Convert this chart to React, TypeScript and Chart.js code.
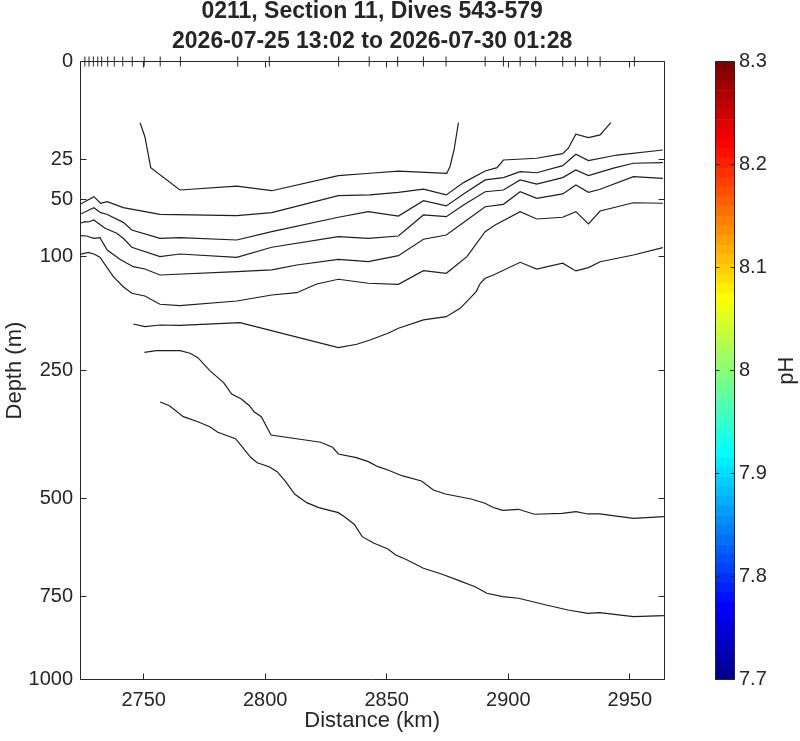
import React, { useEffect, useRef } from 'react';
import { Chart, registerables, Scale, LinearScale } from 'chart.js';

Chart.register(...registerables);

// ---------- data ----------
const TITLE_LINES = ['0211, Section 11, Dives 543-579', '2026-07-25 13:02 to 2026-07-30 01:28'];
const X_TITLE = 'Distance (km)';
const Y_TITLE = 'Depth (m)';
const CB_TITLE = 'pH';

const X_MIN = 2723.8;
const X_MAX = 2964.2;
const X_TICKS = [2750, 2800, 2850, 2900, 2950];
const Y_MIN = 0;
const Y_MAX = 1000;
const Y_TICKS = [0, 25, 50, 100, 250, 500, 750, 1000];
const CB_MIN = 7.7;
const CB_MAX = 8.3;
const CB_TICKS = [7.7, 7.8, 7.9, 8, 8.1, 8.2, 8.3];
const CB_LEVELS = 64;

const DIVE_KM = [2725.8, 2727.5, 2729.3, 2731.1, 2732.7, 2735.2, 2737.9, 2741.4, 2745.3, 2750.2, 2756.8, 2765.1, 2788.7, 2801.7, 2830.2, 2842.8, 2854.5, 2865.1, 2874.4, 2890.5, 2898.0, 2904.9, 2911.3, 2922.4, 2927.6, 2932.7, 2937.8, 2951.9];

const C1_KM = [2748.5, 2750.5, 2752.9, 2764.9, 2788.3, 2802.7, 2830.1, 2843.1, 2854.8, 2874.7, 2876.0, 2877.7, 2879.5];
const C1_DEPTH = [9.8, 14.8, 29.5, 43.2, 40.6, 43.7, 34.1, 32.7, 31.4, 32.7, 29.0, 20.5, 9.8];

const C2_KM = [2723.8, 2726.5, 2729.5, 2732.3, 2735.0, 2741.6, 2756.7, 2788.3, 2802.7, 2830.1, 2843.1, 2854.8, 2865.1, 2874.5, 2881.6, 2890.5, 2895.4, 2898.0, 2911.7, 2922.4, 2924.7, 2927.8, 2933.0, 2937.8, 2942.2];
const C2_DEPTH = [53.4, 50.7, 47.8, 52.6, 51.4, 55.9, 61.1, 62.2, 59.8, 47.1, 46.6, 44.8, 42.7, 46.6, 38.4, 31.4, 29.5, 25.4, 24.5, 22.2, 19.7, 13.8, 15.2, 14.1, 9.8];

const C3_KM = [2723.8, 2729.5, 2732.3, 2734.8, 2741.6, 2745.1, 2756.7, 2764.9, 2788.3, 2802.7, 2830.1, 2842.4, 2854.8, 2865.1, 2874.5, 2881.6, 2890.5, 2898.0, 2904.9, 2911.7, 2922.4, 2927.8, 2933.0, 2944.7, 2963.6];
const C3_DEPTH = [61.1, 55.9, 59.8, 61.1, 67.7, 74.3, 81.8, 81.2, 83.4, 75.8, 63.5, 59.0, 62.5, 50.7, 54.6, 45.9, 36.7, 35.3, 31.8, 32.4, 28.4, 22.5, 25.7, 22.9, 20.5];

const C4_KM = [2723.8, 2725.8, 2727.2, 2729.5, 2734.1, 2738.9, 2741.6, 2745.1, 2756.7, 2764.9, 2788.3, 2802.7, 2830.1, 2842.4, 2854.8, 2865.1, 2874.5, 2881.6, 2890.5, 2898.0, 2904.9, 2911.7, 2922.4, 2927.8, 2933.0, 2943.3, 2951.5, 2963.6];
const C4_DEPTH = [68.5, 67.1, 67.4, 65.7, 72.8, 77.2, 81.8, 90.3, 99.7, 97.0, 100.3, 90.3, 80.3, 81.8, 79.7, 61.6, 63.0, 53.9, 44.4, 43.2, 36.7, 39.3, 35.3, 30.8, 34.1, 29.8, 27.1, 26.8];

const C5_KM = [2723.8, 2726.5, 2729.5, 2732.0, 2735.0, 2740.2, 2745.7, 2750.5, 2756.7, 2788.3, 2802.7, 2813.0, 2830.1, 2842.4, 2854.8, 2865.1, 2874.5, 2883.0, 2890.5, 2898.0, 2904.9, 2911.7, 2922.4, 2927.8, 2933.0, 2937.8, 2951.5, 2963.6];
const C5_DEPTH = [79.4, 79.7, 81.8, 81.2, 93.0, 102.4, 110.2, 112.7, 119.3, 115.6, 113.7, 108.4, 102.4, 104.9, 98.7, 82.7, 78.8, 65.7, 55.2, 53.4, 44.4, 49.0, 45.9, 39.9, 44.8, 42.7, 34.7, 35.7];

const C6_KM = [2723.8, 2727.2, 2729.5, 2732.0, 2737.5, 2741.6, 2745.1, 2750.5, 2756.7, 2764.9, 2788.3, 2802.7, 2813.0, 2821.2, 2830.1, 2842.4, 2854.8, 2865.1, 2874.5, 2883.0, 2890.5, 2894.6, 2904.9, 2911.7, 2922.4, 2927.8, 2933.0, 2937.8, 2951.5, 2963.6];
const C6_DEPTH = [97.3, 95.3, 97.0, 100.3, 121.2, 132.7, 140.6, 143.9, 154.2, 156.0, 150.1, 142.7, 139.9, 129.5, 124.1, 128.7, 129.9, 114.5, 117.4, 99.7, 75.8, 69.9, 59.0, 64.9, 63.5, 59.0, 69.1, 58.5, 52.2, 52.6];

const C7_KM = [2745.7, 2750.5, 2756.7, 2764.9, 2789.6, 2830.1, 2837.7, 2843.1, 2850.5, 2854.8, 2865.1, 2874.5, 2880.2, 2883.6, 2886.8, 2888.5, 2890.5, 2893.9, 2904.9, 2911.7, 2922.4, 2927.8, 2933.0, 2937.8, 2951.5, 2963.6];
const C7_DEPTH = [180.3, 184.0, 181.7, 182.1, 178.5, 214.3, 209.2, 202.9, 193.3, 186.2, 174.8, 170.4, 159.4, 148.8, 138.6, 128.7, 123.0, 119.3, 105.5, 112.7, 106.5, 114.8, 111.2, 104.9, 98.0, 90.7];

const C8_KM = [2750.3, 2755.2, 2765.0, 2769.1, 2772.3, 2777.2, 2782.9, 2786.2, 2790.2, 2793.5, 2795.4, 2798.4, 2802.4, 2822.8, 2827.7, 2830.1, 2837.5, 2842.4, 2846.4, 2850.5, 2856.2, 2864.3, 2869.2, 2874.1, 2884.7, 2890.4, 2893.6, 2897.7, 2904.2, 2910.7, 2922.2, 2927.9, 2932.7, 2937.6, 2951.5, 2964.0];
const C8_DEPTH = [221.3, 218.8, 218.8, 222.8, 229.5, 250.1, 269.9, 289.3, 298.0, 310.0, 320.9, 330.1, 365.0, 379.4, 389.4, 403.1, 410.7, 419.0, 429.6, 436.6, 448.9, 460.4, 480.4, 489.4, 500.8, 510.7, 520.0, 527.0, 524.7, 536.4, 534.1, 530.3, 535.7, 535.7, 546.0, 542.1];

const C9_KM = [2756.8, 2760.6, 2766.3, 2772.3, 2777.2, 2780.5, 2787.8, 2790.2, 2794.0, 2796.7, 2801.6, 2804.9, 2808.1, 2812.2, 2817.1, 2822.0, 2830.1, 2832.6, 2836.6, 2839.9, 2844.8, 2850.5, 2853.7, 2857.8, 2865.1, 2872.5, 2879.8, 2886.3, 2891.2, 2897.7, 2904.2, 2915.6, 2924.6, 2932.7, 2937.6, 2951.5, 2964.0];
const C9_DEPTH = [303.3, 310.0, 330.1, 339.5, 349.0, 359.7, 372.3, 386.8, 409.9, 421.2, 429.6, 440.2, 459.8, 490.1, 509.3, 520.9, 532.6, 542.1, 560.4, 590.8, 607.4, 621.8, 637.2, 648.4, 672.0, 687.2, 705.3, 721.7, 740.0, 749.4, 753.9, 772.9, 787.2, 796.7, 794.9, 806.5, 803.6];

// ---------- styles ----------
const FONT = '"Liberation Sans", Arial, Helvetica, sans-serif';
const TEXT = '#262626';
const AXIS = '#262626';
const LINE = '#1e1e1e';
const TICK_LEN = 6;

// ---------- sqrt depth scale ----------
class SqrtScale extends Scale {
  static id = 'sqrt';
  static defaults = {};
  _startValue: number;
  _valueRange: number;
  constructor(cfg: any) {
    super(cfg);
    this._startValue = 0;
    this._valueRange = 1;
  }
  parse(raw: any, index: number) {
    return (LinearScale.prototype as any).parse.apply(this, [raw, index]);
  }
  determineDataLimits() {
    const o: any = (this as any).options;
    (this as any).min = o.min ?? 0;
    (this as any).max = o.max ?? 1;
  }
  buildTicks() {
    return Y_TICKS.map((v) => ({ value: v }));
  }
  configure() {
    super.configure();
    this._startValue = Math.sqrt((this as any).min);
    this._valueRange = Math.sqrt((this as any).max) - this._startValue;
  }
  getPixelForValue(value: number) {
    return this.getPixelForDecimal((Math.sqrt(Math.max(0, value)) - this._startValue) / this._valueRange);
  }
  getValueForPixel(pixel: number) {
    const d = this.getDecimalForPixel(pixel);
    return Math.pow(this._startValue + d * this._valueRange, 2);
  }
}
Chart.register(SqrtScale as any);

function jet(m: number): string[] {
  const n = Math.ceil(m / 4);
  const u: number[] = [];
  for (let i = 1; i <= n; i++) u.push(i / n);
  for (let i = 0; i < n - 1; i++) u.push(1);
  for (let i = n; i >= 1; i--) u.push(i / n);
  const g0 = Math.ceil(n / 2) - (m % 4 === 1 ? 1 : 0);
  const J = Array.from({ length: m }, () => [0, 0, 0]);
  u.forEach((val, k) => {
    const g = g0 + k + 1;
    const r = g + n;
    const b = g - n;
    if (r >= 1 && r <= m) J[r - 1][0] = val;
    if (g >= 1 && g <= m) J[g - 1][1] = val;
    if (b >= 1 && b <= m) J[b - 1][2] = val;
  });
  return J.map(([r, g, b]) => `rgb(${Math.round(r * 255)},${Math.round(g * 255)},${Math.round(b * 255)})`);
}

const crisp = (v: number) => Math.round(v - 0.5) + 0.5;

const mainAxesPlugin = {
  id: 'mainAxes',
  afterDatasetsDraw(chart: any) {
    const { ctx, chartArea: a, scales } = chart;
    const xs = scales.x;
    const ys = scales.y;
    const L = crisp(a.left), R = crisp(a.right), T = crisp(a.top), B = crisp(a.bottom);
    ctx.save();
    ctx.strokeStyle = AXIS;
    ctx.lineWidth = 1;
    ctx.beginPath();
    ctx.rect(L, T, R - L, B - T);
    for (const t of xs.ticks) {
      const px = crisp(xs.getPixelForValue(t.value));
      ctx.moveTo(px, B);
      ctx.lineTo(px, B - TICK_LEN);
      ctx.moveTo(px, T);
      ctx.lineTo(px, T + TICK_LEN);
    }
    for (const t of ys.ticks) {
      const py = crisp(ys.getPixelForValue(t.value));
      ctx.moveTo(L, py);
      ctx.lineTo(L + TICK_LEN, py);
      ctx.moveTo(R, py);
      ctx.lineTo(R - TICK_LEN, py);
    }
    ctx.stroke();
    ctx.restore();
  },
};

const colorbarPlugin = {
  id: 'colorbarFrame',
  afterDraw(chart: any) {
    const { ctx, chartArea: a, scales } = chart;
    const ys = scales.y;
    const L = crisp(a.left), R = crisp(a.right), T = crisp(a.top), B = crisp(a.bottom);
    ctx.save();
    ctx.strokeStyle = AXIS;
    ctx.lineWidth = 1;
    ctx.beginPath();
    ctx.rect(L, T, R - L, B - T);
    for (const v of CB_TICKS) {
      const py = crisp(ys.getPixelForValue(v));
      ctx.moveTo(L, py);
      ctx.lineTo(L + 4, py);
      ctx.moveTo(R, py);
      ctx.lineTo(R - 4, py);
    }
    ctx.stroke();
    ctx.fillStyle = TEXT;
    ctx.font = `22px ${FONT}`;
    ctx.textAlign = 'center';
    ctx.textBaseline = 'middle';
    ctx.translate(87, (a.top + a.bottom) / 2);
    ctx.rotate(-Math.PI / 2);
    ctx.fillText(CB_TITLE, 0, 0);
    ctx.restore();
  },
};

const MAIN_W = 700;
const CB_W = 100;
const CANVAS_H = 744;
const CANVAS_TOP = -3;

export default function App() {
  const mainRef = useRef<HTMLCanvasElement>(null);
  const cbRef = useRef<HTMLCanvasElement>(null);

  useEffect(() => {
    Chart.defaults.font.family = FONT;
    Chart.defaults.color = TEXT;

    const contours = [
      [C1_KM, C1_DEPTH], [C2_KM, C2_DEPTH], [C3_KM, C3_DEPTH], [C4_KM, C4_DEPTH], [C5_KM, C5_DEPTH],
      [C6_KM, C6_DEPTH], [C7_KM, C7_DEPTH], [C8_KM, C8_DEPTH], [C9_KM, C9_DEPTH],
    ];
    const datasets: any[] = contours.map(([xs, ys]) => ({
      data: xs.map((x, i) => ({ x, y: ys[i] })),
      showLine: true,
      borderColor: LINE,
      borderWidth: 1.2,
      pointRadius: 0,
      fill: false,
      tension: 0,
    }));
    datasets.push({
      data: DIVE_KM.map((x) => ({ x, y: 0 })),
      showLine: false,
      pointStyle: 'line',
      rotation: 90,
      pointRadius: 5,
      pointBorderColor: AXIS,
      pointBorderWidth: 1,
      clip: false,
    });

    const main = new Chart(mainRef.current!, {
      type: 'scatter',
      data: { datasets },
      plugins: [mainAxesPlugin],
      options: {
        responsive: false,
        animation: false,
        events: [],
        layout: { padding: { left: 0, right: MAIN_W - 664.3, top: 0, bottom: 0 } },
        plugins: {
          legend: { display: false },
          tooltip: { enabled: false },
          title: {
            display: true,
            text: TITLE_LINES,
            fullSize: false,
            color: TEXT,
            font: { size: 23, weight: 'bold', lineHeight: 1.28 },
            padding: { top: 0, bottom: 5.6 },
          },
        },
        scales: {
          x: {
            type: 'linear',
            min: X_MIN,
            max: X_MAX,
            afterBuildTicks: (s: any) => { s.ticks = X_TICKS.map((v) => ({ value: v })); },
            afterFit: (s: any) => { s.height = 61.3; },
            grid: { display: false, drawTicks: false },
            border: { display: false },
            ticks: { font: { size: 20 }, color: TEXT, padding: 8.8, maxRotation: 0, autoSkip: false, callback: (v: any) => String(v) },
            title: { display: true, text: X_TITLE, color: TEXT, font: { size: 22 }, padding: { top: 0, bottom: 6.8 } },
          },
          y: {
            type: 'sqrt' as any,
            min: Y_MIN,
            max: Y_MAX,
            reverse: true,
            afterFit: (s: any) => { s.width = 80; },
            grid: { display: false, drawTicks: false },
            border: { display: false },
            ticks: { font: { size: 20 }, color: TEXT, padding: 7, autoSkip: false },
            title: { display: true, text: Y_TITLE, color: TEXT, font: { size: 22 }, padding: { top: 2, bottom: 0 } },
          } as any,
        },
      } as any,
    });

    const colors = jet(CB_LEVELS);
    const step = (CB_MAX - CB_MIN) / CB_LEVELS;
    const cbDatasets = colors.map((c, i) => ({
      data: [[CB_MIN + i * step, CB_MIN + (i + 1) * step]],
      backgroundColor: c,
      borderWidth: 0,
      barPercentage: 1,
      categoryPercentage: 1,
      grouped: false,
    }));

    const cb = new Chart(cbRef.current!, {
      type: 'bar',
      data: { labels: [''], datasets: cbDatasets as any },
      plugins: [colorbarPlugin],
      options: {
        responsive: false,
        animation: false,
        events: [],
        layout: { padding: { left: 15, right: 0, top: 64.5, bottom: 61.3 } },
        plugins: { legend: { display: false }, tooltip: { enabled: false } },
        scales: {
          x: { type: 'category', display: false },
          y: {
            type: 'linear',
            position: 'right',
            min: CB_MIN,
            max: CB_MAX,
            afterBuildTicks: (s: any) => { s.ticks = CB_TICKS.map((v) => ({ value: v })); },
            afterFit: (s: any) => { s.width = 66; },
            grid: { display: false, drawTicks: false },
            border: { display: false },
            ticks: { font: { size: 20 }, color: TEXT, padding: 5, autoSkip: false, callback: (v: any) => String(v) },
          },
        },
      } as any,
    });

    return () => {
      main.destroy();
      cb.destroy();
    };
  }, []);

  return (
    <div style={{ position: 'absolute', left: 0, top: 0, width: 800, height: 741, overflow: 'hidden', background: '#fff' }}>
      <canvas ref={mainRef} width={MAIN_W} height={CANVAS_H}
        style={{ position: 'absolute', left: 0, top: CANVAS_TOP, width: MAIN_W, height: CANVAS_H }} />
      <canvas ref={cbRef} width={CB_W} height={CANVAS_H}
        style={{ position: 'absolute', left: MAIN_W, top: CANVAS_TOP, width: CB_W, height: CANVAS_H }} />
    </div>
  );
}
